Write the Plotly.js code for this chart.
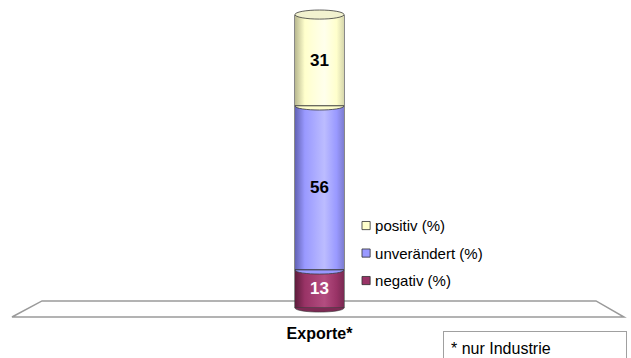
<!DOCTYPE html>
<html>
<head>
<meta charset="utf-8">
<script src="https://cdn.plot.ly/plotly-3.0.1.min.js"></script>
<style>
  html, body { margin: 0; padding: 0; background: #fff; }
  #chart { width: 631px; height: 358px; }
</style>
</head>
<body>
<div id="chart"></div>
<script>
// Survey result: expected development of exports (shares in %)
const categories = ['Exporte*'];
const seriesNames = ['negativ (%)', 'unverändert (%)', 'positiv (%)'];
const negativ = [13];
const unveraendert = [56];
const positiv = [31];
const footnote = '* nur Industrie';

const baseColors = ['#993366', '#9999FF', '#FFFFCC'];
const labelColors = ['#FFFFFF', '#000000', '#000000'];
// shading stops for the cylinder look: [left edge, highlight, right edge]
const shades = [
  ['#5e1c3c', '#b34d80', '#7a2a52'],
  ['#6262b4', '#bcbcff', '#7d7dd0'],
  ['#b8b890', '#ffffec', '#d6d6ac']
];

const xPos = [0];
const barWidth = 0.0787;
const capHalf = 1.4;

const seriesValues = [negativ, unveraendert, positiv];
const traces = seriesValues.map((vals, i) => ({
  type: 'bar',
  name: seriesNames[i],
  legendgroup: 'g' + i,
  legendrank: 1000 - i,   // top segment listed first
  x: xPos,
  y: vals,
  width: barWidth,
  marker: { color: baseColors[i], line: { color: '#3a3a3a', width: 0.6 } },
  text: vals.map(String),
  textposition: 'inside',
  insidetextanchor: 'middle',
  constraintext: 'none',
  textangle: 0,
  textfont: { family: 'Liberation Sans, Arial, sans-serif', size: 17, weight: 'bold', color: labelColors[i] },
  hoverinfo: 'none'
}));

// cumulative tops of the stacked segments
const segTops = [];
let acc = 0;
seriesValues.forEach(v => { acc += v[0]; segTops.push(acc); });

const xl = xPos[0] - barWidth / 2, xr = xPos[0] + barWidth / 2;

const shapes = [
  // floor plane under the cylinder
  { type: 'path', layer: 'below', xref: 'x', yref: 'y',
    path: 'M -0.4936,-3.07 L -0.4454,2.4 L 0.4438,2.4 L 0.4888,-3.07 Z',
    fillcolor: '#ffffff', line: { color: '#9a9a9a', width: 1.5 } },
  // rounded bottom of the cylinder
  { type: 'circle', layer: 'below', xref: 'x', yref: 'y',
    x0: xl, x1: xr, y0: -capHalf, y1: capHalf,
    fillcolor: '#7d2a54', line: { color: '#3a3a3a', width: 0.6 } }
];
// curved seams between segments
segTops.slice(0, -1).forEach((t, i) => {
  shapes.push({ type: 'path', layer: 'above', xref: 'x', yref: 'y',
    path: `M ${xl},${t} C ${xl},${t - 1.9} ${xr},${t - 1.9} ${xr},${t} Z`,
    fillcolor: baseColors[i + 1], line: { color: '#3a3a3a', width: 0.8 } });
});
// top cap
const capY = segTops[segTops.length - 1];
shapes.push({ type: 'circle', layer: 'above', xref: 'x', yref: 'y',
  x0: xl, x1: xr, y0: capY - capHalf, y1: capY + capHalf + 0.3,
  fillcolor: '#f2f2cf', line: { color: '#3a3a3a', width: 0.8 } });

const layout = {
  width: 631, height: 358,
  margin: { l: 8, r: 0, t: 0, b: 36 },
  paper_bgcolor: '#ffffff', plot_bgcolor: '#ffffff',
  barmode: 'stack',
  font: { family: 'Liberation Sans, Arial, sans-serif', size: 15, color: '#000' },
  xaxis: {
    range: [-0.5, 0.5], fixedrange: true,
    showgrid: false, zeroline: false, showline: false,
    tickvals: xPos, ticktext: categories, ticks: '',
    tickfont: { size: 16, weight: 'bold', color: '#000' }
  },
  yaxis: {
    range: [-4.78, 105.12], fixedrange: true,
    showgrid: false, zeroline: false, showline: false, showticklabels: false
  },
  showlegend: true,
  legend: {
    x: 0.525, xanchor: 'left', y: 0.35, yanchor: 'top',
    traceorder: 'grouped', tracegroupgap: 5,
    font: { size: 15, color: '#000' }, bgcolor: 'rgba(0,0,0,0)'
  },
  shapes: shapes,
  annotations: [{
    xref: 'paper', yref: 'paper', x: (443 - 8) / 623, y: -0.028,
    xanchor: 'left', yanchor: 'top', showarrow: false,
    text: footnote, align: 'left', width: 168, height: 18, valign: 'middle',
    borderpad: 7, bordercolor: '#a0a0a0', borderwidth: 1,
    font: { size: 16, color: '#000' }
  }]
};

Plotly.newPlot('chart', traces, layout, { staticPlot: true }).then(gd => {
  // horizontal gradients give the bars a cylindrical look
  const ns = 'http://www.w3.org/2000/svg';
  const svg = gd.querySelector('.main-svg');
  let defs = svg.querySelector('defs');
  if (!defs) { defs = document.createElementNS(ns, 'defs'); svg.insertBefore(defs, svg.firstChild); }
  shades.forEach((s, i) => {
    const g = document.createElementNS(ns, 'linearGradient');
    g.setAttribute('id', 'cyl' + i);
    g.setAttribute('x1', '0'); g.setAttribute('x2', '1');
    g.setAttribute('y1', '0'); g.setAttribute('y2', '0');
    [[0, s[0]], [0.2, baseColors[i]], [0.6, s[1]], [0.85, baseColors[i]], [1, s[2]]].forEach(([o, c]) => {
      const st = document.createElementNS(ns, 'stop');
      st.setAttribute('offset', o); st.setAttribute('stop-color', c);
      g.appendChild(st);
    });
    defs.appendChild(g);
  });
  gd.querySelectorAll('.barlayer .trace').forEach((tr, i) => {
    tr.querySelectorAll('.point path').forEach(p => { p.style.fill = `url(#cyl${i})`; });
  });
  // smaller legend swatches, closer to the labels
  gd.querySelectorAll('.legend .legendpoints path').forEach(p => {
    const t = p.getAttribute('transform') || '';
    p.setAttribute('transform', t + ' translate(11,0) scale(0.68)');
    p.style.strokeWidth = '1.2px';
    p.style.stroke = '#333';
  });
});
</script>
</body>
</html>
